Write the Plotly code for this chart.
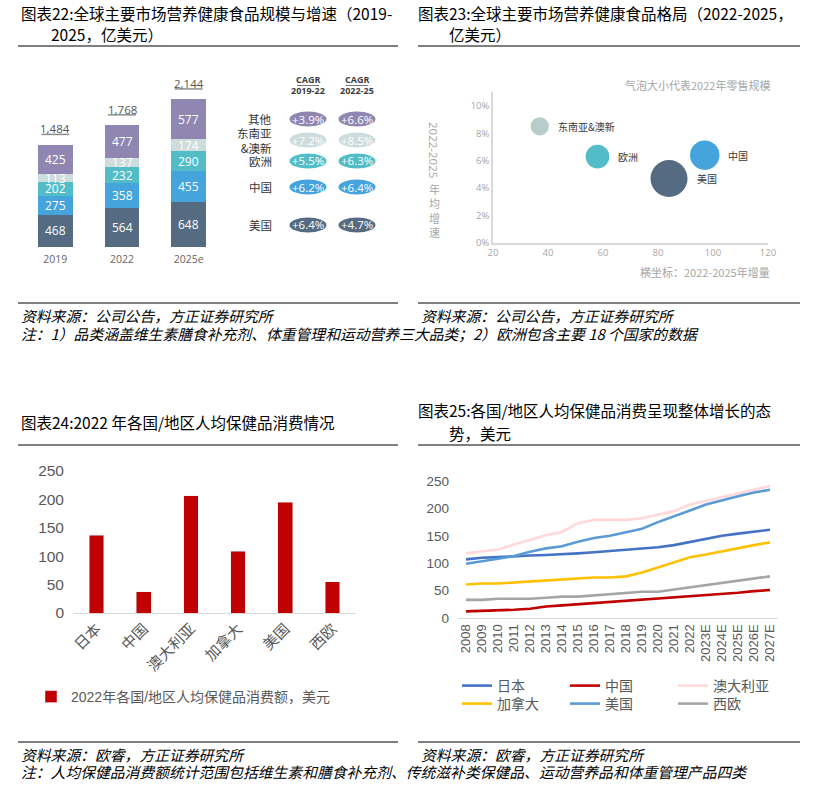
import plotly.graph_objects as go

W, H = 815, 790


def px(x):
    return x / W


def py(y):
    return 1 - y / H


# ---------------- data ----------------
# Chart 22: stacked market size (亿美元)
years22 = ["2019", "2022", "2025e"]
us22 = [468, 564, 648]
cn22 = [275, 358, 455]
eu22 = [202, 232, 290]
sea22 = [113, 137, 174]
oth22 = [425, 477, 577]
totals22 = [1484, 1768, 2144]
seg_names22 = ["美国", "中国", "欧洲", "东南亚&澳新", "其他"]

cagr_rows = ["其他", "东南亚<br>&澳新", "欧洲", "中国", "美国"]
cagr_1922 = ["+3.9%", "+7.2%", "+5.5%", "+6.2%", "+6.4%"]
cagr_2225 = ["+6.6%", "+8.5%", "+6.3%", "+6.4%", "+4.7%"]
cagr_headers = ["2019-22", "2022-25"]

# Chart 23: bubble
bub_names = ["东南亚&澳新", "欧洲", "中国", "美国"]
bub_incr = [37, 58, 97, 84]
bub_cagr = [0.085, 0.063, 0.064, 0.047]
bub_size = [137, 232, 358, 564]

# Chart 24: per-capita spending 2022
countries24 = ["日本", "中国", "澳大利亚", "加拿大", "美国", "西欧"]
spend24 = [137, 37, 206, 109, 195, 55]

# Chart 25: per-capita spending trend
years25 = ["2008", "2009", "2010", "2011", "2012", "2013", "2014", "2015",
           "2016", "2017", "2018", "2019", "2020", "2021", "2022",
           "2023E", "2024E", "2025E", "2026E", "2027E"]
japan25 = [107, 110, 111, 113, 114, 115, 116, 118, 120, 122, 124, 127, 129,
           133, 139, 145, 150, 154, 158, 161]
china25 = [12, 13, 13, 15, 17, 21, 23, 25, 27, 30, 32, 34, 36, 38, 40, 42,
           44, 46, 49, 51]
aus25 = [118, 121, 125, 134, 143, 151, 157, 173, 179, 179, 179, 182, 188,
         195, 207, 214, 221, 227, 234, 241]
canada25 = [61, 63, 63, 65, 67, 69, 71, 72, 74, 74, 76, 83, 92, 102, 111,
            116, 122, 127, 133, 138]
usa25 = [99, 103, 108, 113, 121, 127, 131, 139, 146, 150, 157, 163, 175,
         185, 196, 207, 215, 222, 229, 234]
weu25 = [33, 33, 35, 35, 35, 37, 39, 39, 41, 43, 46, 48, 48, 52, 55, 59, 64,
         68, 72, 76]
series25 = ["日本", "中国", "澳大利亚", "加拿大", "美国", "西欧"]

# ---------------- styles ----------------
SANS = "Liberation Sans, Noto Sans CJK SC, sans-serif"
HUM = "Open Sans, Noto Sans CJK SC, sans-serif"
CJK = "Noto Sans CJK SC, sans-serif"
seg_colors22 = ["#546b82", "#44a4db", "#52bdc7", "#cddcdc", "#8f86b2"]
bub_colors = ["#b8cccc", "#52bdc7", "#44a4db", "#546b82"]
line_colors25 = ["#4472c4", "#c00000", "#ffd9d9", "#ffc000", "#5b9bd5", "#a5a5a5"]

fig = go.Figure()
annotations = []
shapes = []


def note(x, y, text, font, xanchor="center", **kw):
    annotations.append(dict(x=px(x), y=py(y), xref="paper", yref="paper",
                            text=text, showarrow=False, xanchor=xanchor,
                            yanchor="middle", font=font, **kw))


# ---------------- Chart 22 ----------------
seg_vals22 = [us22, cn22, eu22, sea22, oth22]
xs22 = list(range(len(years22)))
for name, vals, col in zip(seg_names22, seg_vals22, seg_colors22):
    fig.add_trace(go.Bar(x=xs22, y=vals, name=name, marker_color=col,
                         marker_line_width=0, width=0.52, showlegend=False,
                         xaxis="x", yaxis="y", hoverinfo="skip"))
cum = [0] * len(years22)
for vals in seg_vals22:
    for i, v in enumerate(vals):
        annotations.append(dict(x=i, y=cum[i] + v / 2, xref="x", yref="y",
                                text=str(v), showarrow=False,
                                xanchor="center", yanchor="middle",
                                font=dict(family=HUM, size=12, color="white")))
        cum[i] += v
for i, t in enumerate(totals22):
    annotations.append(dict(x=i, y=t, xref="x", yref="y", text=f"{t:,}",
                            showarrow=False, yshift=16, xanchor="center",
                            yanchor="middle",
                            font=dict(family=HUM, size=11.5, color="#555555")))
    shapes.append(dict(type="line", xref="x", yref="y", x0=i - 0.21,
                       x1=i + 0.21, y0=t + 150, y1=t + 150,
                       line=dict(color="#8c8c8c", width=1.5)))

# CAGR table
col_x = [308, 357]
row_y = [119, 140, 161, 187, 225]
HFONT = dict(family=HUM, size=9, color="#404040")
for cx, hdr in zip(col_x, cagr_headers):
    note(cx, 80, "<b>CAGR</b>", HFONT)
    note(cx, 91, f"<b>{hdr}</b>", HFONT)
    shapes.append(dict(type="line", xref="paper", yref="paper",
                       x0=px(cx - 11), x1=px(cx + 11), y0=py(85.5),
                       y1=py(85.5), line=dict(color="#777777", width=1)))
for r, (lab, a, b) in enumerate(zip(cagr_rows, cagr_1922, cagr_2225)):
    col = seg_colors22[len(seg_colors22) - 1 - r]
    note(274, row_y[r], lab, dict(family=CJK, size=11.5, color="#333333"),
         xanchor="right", align="right")
    for cx, val in zip(col_x, [a, b]):
        shapes.append(dict(type="circle", xref="paper", yref="paper",
                           layer="below",
                           x0=px(cx - 18.5), x1=px(cx + 18.5),
                           y0=py(row_y[r] - 7.5), y1=py(row_y[r] + 7.5),
                           fillcolor=col, line=dict(width=0)))
        note(cx, row_y[r], val, dict(family=HUM, size=11.5, color="white"))

# ---------------- Chart 23 ----------------
max_d = 37.0
sizeref = 2 * max(bub_size) / (max_d ** 2)
fig.add_trace(go.Scatter(x=bub_incr, y=bub_cagr, mode="markers",
                         marker=dict(size=bub_size, sizemode="area",
                                     sizeref=sizeref, color=bub_colors,
                                     opacity=1, line=dict(width=0)),
                         showlegend=False, xaxis="x3", yaxis="y3",
                         hoverinfo="skip"))
for n, xv, yv, s in zip(bub_names, bub_incr, bub_cagr, bub_size):
    rad = (s / (2 * sizeref)) ** 0.5
    annotations.append(dict(x=xv, y=yv, xref="x3", yref="y3", text=n,
                            showarrow=False, xanchor="left", yanchor="middle",
                            xshift=rad + 7,
                            font=dict(family=CJK, size=10, color="#3a3a3a")))
GFONT = dict(family=CJK, size=11, color="#a6a6a6")
note(772, 85, "气泡大小代表2022年零售规模", GFONT, xanchor="right")
note(772, 272, "横坐标：2022-2025年增量", GFONT, xanchor="right")
note(434, 150, "2022-2025", dict(family=HUM, size=11.5, color="#a6a6a6"),
     textangle=90)
note(434, 211, "年<br>均<br>增<br>速", GFONT)

# ---------------- Chart 24 ----------------
fig.add_trace(go.Bar(x=countries24, y=spend24,
                     name="2022年各国/地区人均保健品消费额，美元",
                     marker_color="#c00000", width=0.31, xaxis="x4",
                     yaxis="y4", legend="legend", showlegend=True,
                     hoverinfo="skip"))

# ---------------- Chart 25 ----------------
vals25 = [japan25, china25, aus25, canada25, usa25, weu25]
for k, (n, v, c) in enumerate(zip(series25, vals25, line_colors25)):
    fig.add_trace(go.Scatter(x=years25, y=v, name=n, mode="lines",
                             line=dict(color=c, width=2.6),
                             xaxis="x5", yaxis="y5",
                             legend="legend2" if k < 3 else "legend3",
                             hoverinfo="skip"))

# ---------------- titles, rules, sources ----------------
TFONT = dict(family=CJK, size=15.5, color="#000000")
titles = [
    (19, 13, "图表22:全球主要市场营养健康食品规模与增速（2019-"),
    (49, 34, "2025，亿美元）"),
    (416, 13, "图表23:全球主要市场营养健康食品格局（2022-2025，"),
    (447, 34, "亿美元）"),
    (19, 422, "图表24:2022 年各国/地区人均保健品消费情况"),
    (416, 410, "图表25:各国/地区人均保健品消费呈现整体增长的态"),
    (447, 433, "势，美元"),
]
for x, y, t in titles:
    note(x, y, t, TFONT, xanchor="left")
for x0, x1, y in [(18, 398, 46), (418, 800, 46), (18, 398, 445),
                  (418, 800, 445), (18, 398, 303), (418, 800, 303),
                  (18, 398, 742), (418, 800, 742)]:
    shapes.append(dict(type="line", xref="paper", yref="paper", x0=px(x0),
                       x1=px(x1), y0=py(y), y1=py(y),
                       line=dict(color="#000000", width=1.2)))
SFONT = dict(family=CJK, size=14.8, color="#000000", style="italic")
notes = [
    (19, 315, "资料来源：公司公告，方正证券研究所"),
    (419, 315, "资料来源：公司公告，方正证券研究所"),
    (19, 333, "注：1）品类涵盖维生素膳食补充剂、体重管理和运动营养三大品类；2）欧洲包含主要 18 个国家的数据"),
    (19, 754, "资料来源：欧睿，方正证券研究所"),
    (419, 754, "资料来源：欧睿，方正证券研究所"),
    (19, 771, "注：人均保健品消费额统计范围包括维生素和膳食补充剂、传统滋补类保健品、运动营养品和体重管理产品四类"),
]
for x, y, t in notes:
    note(x, y, t, SFONT, xanchor="left")


def dom_x(a, b):
    return [px(a), px(b)]


def dom_y(top, bottom):
    return [py(bottom), py(top)]


AX_GRAY = "#d9d9d9"
TICK_GRAY = "#595959"
fig.update_layout(
    width=W, height=H, margin=dict(l=0, r=0, t=0, b=0, autoexpand=False),
    paper_bgcolor="white", plot_bgcolor="white",
    barmode="stack", font=dict(family=SANS),
    xaxis=dict(domain=dom_x(22, 222), range=[-0.5, 2.5], tickvals=xs22,
               ticktext=years22, showgrid=False, zeroline=False,
               showline=False, ticks="", ticklabelstandoff=4,
               automargin=False,
               tickfont=dict(family=HUM, size=10.5, color="#666666"),
               fixedrange=True),
    yaxis=dict(domain=dom_y(80, 247), range=[0, 167 / 0.0689],
               visible=False, fixedrange=True, automargin=False),
    xaxis3=dict(domain=dom_x(493, 768), range=[20, 120], anchor="y3",
                dtick=20, showgrid=False, zeroline=False, showline=True,
                linecolor=AX_GRAY, linewidth=1.5, ticks="", automargin=False,
                tickfont=dict(family=HUM, size=9.5, color="#a6a6a6")),
    yaxis3=dict(domain=dom_y(92, 243), range=[0, 0.11], anchor="x3",
                tickvals=[0, 0.02, 0.04, 0.06, 0.08, 0.10], tickformat=".0%",
                showgrid=False, zeroline=False, showline=True,
                linecolor=AX_GRAY, linewidth=1.5, ticks="", automargin=False,
                tickfont=dict(family=HUM, size=9.5, color="#a6a6a6")),
    xaxis4=dict(domain=dom_x(73, 356), anchor="y4", showgrid=False,
                zeroline=False, showline=True, linecolor=AX_GRAY,
                linewidth=1.2, ticks="", tickangle=-45, automargin=False,
                tickfont=dict(family=SANS, size=15, color=TICK_GRAY)),
    yaxis4=dict(domain=dom_y(471, 613), range=[0, 250], anchor="x4",
                dtick=50, showgrid=False, zeroline=False, showline=False,
                ticks="", ticklabelstandoff=8, automargin=False,
                tickfont=dict(family=SANS, size=15.5, color=TICK_GRAY)),
    xaxis5=dict(domain=dom_x(458, 778), anchor="y5", range=[-0.5, 19.5],
                tickmode="linear", dtick=1,
                showgrid=False, zeroline=False, showline=True,
                linecolor=AX_GRAY, linewidth=1.2, ticks="", tickangle=-90,
                automargin=False,
                tickfont=dict(family=SANS, size=13, color=TICK_GRAY)),
    yaxis5=dict(domain=dom_y(481, 618), range=[0, 250], anchor="x5",
                dtick=50, showgrid=False, zeroline=False, showline=False,
                ticks="", ticklabelstandoff=8, automargin=False,
                tickfont=dict(family=SANS, size=13.5, color=TICK_GRAY)),
    legend=dict(x=px(31), y=py(697), xanchor="left", yanchor="middle",
                orientation="h", bgcolor="rgba(0,0,0,0)",
                font=dict(family=SANS, size=14, color=TICK_GRAY)),
    legend2=dict(x=px(457), y=py(686), xanchor="left", yanchor="middle",
                 orientation="h", entrywidth=63, entrywidthmode="pixels",
                 bgcolor="rgba(0,0,0,0)",
                 font=dict(family=SANS, size=14, color=TICK_GRAY)),
    legend3=dict(x=px(457), y=py(704), xanchor="left", yanchor="middle",
                 orientation="h", entrywidth=63, entrywidthmode="pixels",
                 bgcolor="rgba(0,0,0,0)",
                 font=dict(family=SANS, size=14, color=TICK_GRAY)),
    annotations=annotations, shapes=shapes,
)

# remove the browser's default 8 px page margin so the figure sits at 0,0
fig.write_html("out.html",
               config={"displayModeBar": False},
               post_script="document.body.style.margin='0';")
